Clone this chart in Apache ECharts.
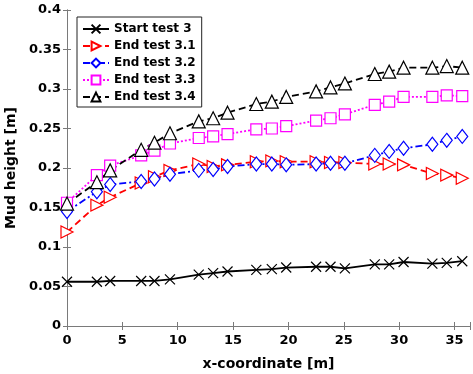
<!DOCTYPE html>
<html>
<head>
<meta charset="utf-8">
<script src="https://cdn.jsdelivr.net/npm/echarts@6/dist/echarts.min.js"></script>
<style>
  html, body { margin: 0; padding: 0; background: #fff; }
  #chart { width: 473px; height: 374px; }
</style>
</head>
<body>
<div id="chart"></div>
<script>
// x positions along the flume [m]
const xCoord = [0, 2.7, 3.9, 6.7, 7.9, 9.3, 11.9, 13.2, 14.5, 17.1, 18.5, 19.8, 22.5, 23.8, 25.1, 27.8, 29.1, 30.4, 33.0, 34.3, 35.7]

// mud height [m]
const startTest3 = [0.056, 0.056, 0.057, 0.057, 0.057, 0.059, 0.065, 0.067, 0.069, 0.071, 0.072, 0.074, 0.075, 0.075, 0.073, 0.078, 0.078, 0.081, 0.079, 0.080, 0.082]
const endTest31 = [0.119, 0.153, 0.163, 0.181, 0.189, 0.197, 0.205, 0.202, 0.204, 0.208, 0.209, 0.208, 0.208, 0.207, 0.207, 0.205, 0.205, 0.204, 0.193, 0.191, 0.187]
const endTest32 = [0.145, 0.170, 0.179, 0.183, 0.186, 0.192, 0.197, 0.198, 0.202, 0.205, 0.205, 0.204, 0.205, 0.206, 0.206, 0.216, 0.221, 0.225, 0.230, 0.235, 0.240]
const endTest33 = [0.156, 0.191, 0.203, 0.216, 0.222, 0.231, 0.238, 0.240, 0.243, 0.249, 0.250, 0.253, 0.260, 0.263, 0.268, 0.280, 0.284, 0.290, 0.290, 0.292, 0.291]
const endTest34 = [0.155, 0.182, 0.197, 0.223, 0.232, 0.244, 0.259, 0.263, 0.270, 0.281, 0.284, 0.290, 0.297, 0.302, 0.307, 0.319, 0.322, 0.327, 0.327, 0.329, 0.327]

const seriesNames = ['Start test 3', 'End test 3.1', 'End test 3.2', 'End test 3.3', 'End test 3.4']

const font = 'DejaVu Sans, sans-serif'
const axisGray = '#7a7a7a'

function pairs(ys) {
  return xCoord.map((x, i) => [x, ys[i]])
}

function makeSeries(name, ys, color, dash, symbol, size, rotate) {
  return {
    name: name,
    type: 'line',
    data: pairs(ys),
    symbol: symbol,
    symbolSize: size,
    symbolRotate: rotate || 0,
    showAllSymbol: true,
    lineStyle: { color: color, width: 1.8, type: dash },
    itemStyle: { color: '#fff', borderColor: color, borderWidth: 1.2 },
    emphasis: { disabled: true },
    z: 3
  }
}

const chart = echarts.init(document.getElementById('chart'))

const hiddenAxis = {
  axisLine: { show: true, lineStyle: { color: axisGray, width: 1 } },
  axisTick: { show: true, inside: true, length: 4, lineStyle: { color: axisGray } },
  axisLabel: { show: false },
  splitLine: { show: false }
}

chart.setOption({
  animation: false,
  backgroundColor: '#fff',
  textStyle: { fontFamily: font },
  grid: { left: 67, right: 3, top: 10, bottom: 48, outerBoundsMode: 'none', containLabel: false },
  legend: {
    orient: 'vertical',
    left: 77,
    top: 17,
    itemWidth: 26,
    itemHeight: 11,
    itemGap: 3,
    padding: [5, 6, 3, 5],
    borderColor: '#222',
    borderWidth: 1,
    backgroundColor: '#fff',
    textStyle: { fontFamily: font, fontWeight: 'bold', fontSize: 12, color: '#000', lineHeight: 14 },
    data: seriesNames
  },
  xAxis: [
    {
      type: 'value',
      min: 0,
      max: 36.4,
      interval: 5,
      name: 'x-coordinate [m]',
      nameLocation: 'middle',
      nameGap: 31,
      nameTextStyle: { fontFamily: font, fontWeight: 'bold', fontSize: 14, color: '#000' },
      axisLine: { show: true, onZero: false, lineStyle: { color: axisGray, width: 1 } },
      axisTick: { show: true, inside: true, length: 4, lineStyle: { color: axisGray } },
      axisLabel: {
        margin: 8, fontFamily: font, fontWeight: 'bold', fontSize: 13, color: '#000',
        formatter: v => (Math.abs(v % 5) < 1e-9 ? String(v) : '')
      },
      splitLine: { show: false }
    },
    Object.assign({ type: 'value', position: 'top', min: 0, max: 36.4, interval: 5 }, hiddenAxis)
  ],
  yAxis: [
    {
      type: 'value',
      min: 0,
      max: 0.4,
      interval: 0.05,
      name: 'Mud height [m]',
      nameLocation: 'middle',
      nameGap: 47,
      nameTextStyle: { fontFamily: font, fontWeight: 'bold', fontSize: 14, color: '#000' },
      axisLine: { show: true, onZero: false, lineStyle: { color: axisGray, width: 1 } },
      axisTick: { show: true, inside: true, length: 4, lineStyle: { color: axisGray } },
      axisLabel: { margin: 6, fontFamily: font, fontWeight: 'bold', fontSize: 13, color: '#000' },
      splitLine: { show: false }
    },
    Object.assign({ type: 'value', position: 'right', min: 0, max: 0.4, interval: 0.05 }, hiddenAxis)
  ],
  series: [
    makeSeries(seriesNames[0], startTest3, '#000', 'solid', 'path://M0,0L10,10M10,0L0,10', 10),
    makeSeries(seriesNames[1], endTest31, '#ff0000', [7, 4], 'triangle', 12, -90),
    makeSeries(seriesNames[2], endTest32, '#0000ff', [7, 3, 2, 3], 'diamond', [11, 14]),
    makeSeries(seriesNames[3], endTest33, '#ff00ff', [2, 2], 'rect', 11),
    makeSeries(seriesNames[4], endTest34, '#000', [7, 4], 'triangle', 13)
  ]
})
</script>
</body>
</html>
